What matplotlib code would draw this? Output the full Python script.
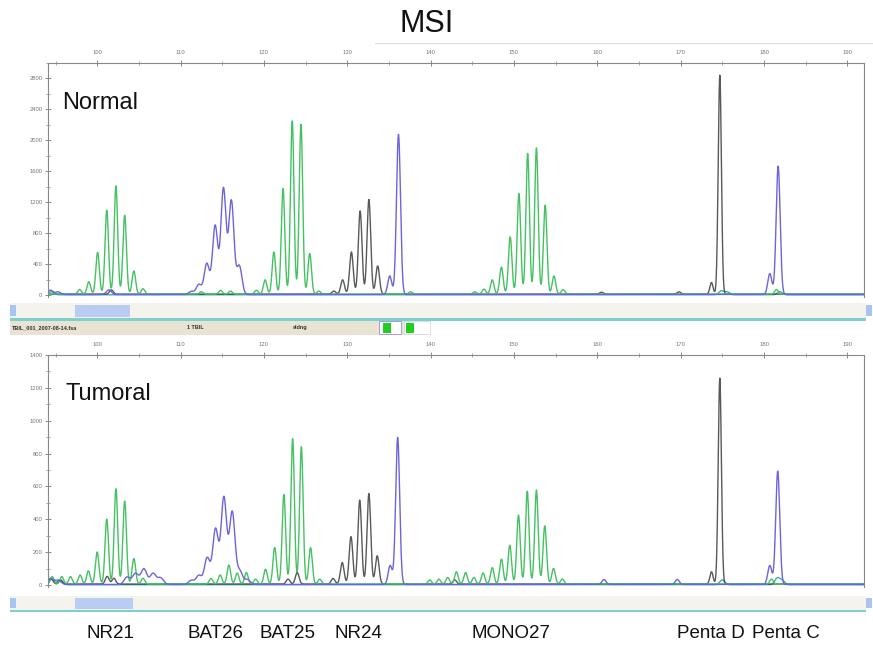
import numpy as np
import matplotlib
matplotlib.use("Agg")
import matplotlib.pyplot as plt
import matplotlib.transforms as mtransforms
from matplotlib.patches import Rectangle
from matplotlib.ticker import MultipleLocator

plt.rcParams['font.family'] = ['Liberation Sans', 'DejaVu Sans']

# ---------------- data: peaks (size in bp, height in RFU) ----------------
# Normal sample
normal_green_pos = [97.9, 99.0, 100.05, 101.15, 102.25, 103.3, 104.4, 105.5,
                    112.5, 114.8, 116.0,
                    119.1, 120.15, 121.2, 122.3, 123.4, 124.45, 125.5, 126.6,
                    137.6,
                    145.3, 146.4, 147.4, 148.5, 149.55, 150.6, 151.65, 152.7, 153.75, 154.8, 155.9,
                    181.5]
normal_green_h = [60, 160, 540, 1085, 1400, 1020, 300, 70,
                  30, 50, 40,
                  50, 185, 545, 1365, 2240, 2195, 525, 40,
                  30,
                  30, 65, 185, 350, 740, 1300, 1820, 1890, 1150, 235, 60,
                  60]
normal_blue_pos = [94.4, 95.3, 101.4,
                   111.3, 112.2, 113.15, 114.15, 115.15, 116.1, 117.05,
                   135.1, 136.15,
                   180.7, 181.7]
normal_blue_h = [55, 35, 60,
                 40, 130, 400, 890, 1370, 1210, 370,
                 240, 2070,
                 270, 1660]
normal_black_pos = [101.7, 128.4, 129.45, 130.5, 131.55, 132.6, 133.65,
                    160.5, 169.8, 173.7, 174.7]
normal_black_h = [55, 40, 185, 545, 1075, 1225, 365,
                  25, 30, 150, 2830]
normal_teal_pos = [94.5, 174.9, 175.6, 181.9]
normal_teal_h = [40, 50, 35, 40]

# Tumoral sample
tumor_green_pos = [94.6, 95.75, 96.8, 97.95, 98.95, 100.0, 101.15, 102.25, 103.3, 104.4, 105.5,
                   113.65, 114.75, 115.8, 116.8, 117.9, 119.0,
                   120.2, 121.3, 122.4, 123.45, 124.5, 125.6, 126.7,
                   139.9, 141.0, 142.05, 143.1, 144.2, 145.2, 146.3, 147.4, 148.5, 149.5,
                   150.55, 151.6, 152.7, 153.7, 154.75, 155.8,
                   180.9]
tumor_green_h = [45, 45, 45, 55, 80, 195, 395, 580, 505, 155, 35,
                 34, 55, 115, 67, 70, 30,
                 90, 222, 545, 885, 835, 222, 30,
                 25, 30, 40, 75, 70, 40, 67, 100, 152, 236,
                 420, 565, 572, 354, 95, 30,
                 30]
tumor_blue_pos = [94.4, 95.3, 103.6, 104.6, 105.6, 106.7, 107.6,
                  111.3, 112.2, 113.2, 114.2, 115.2, 116.2, 117.1, 118.0,
                  135.15, 136.05,
                  160.8, 169.6,
                  180.7, 181.65]
tumor_blue_h = [35, 25, 45, 67, 95, 67, 40,
                25, 55, 162, 337, 529, 440, 81, 30,
                115, 895,
                30, 30,
                115, 690]
tumor_black_pos = [94.5, 95.6, 101.2, 102.0, 122.9, 124.0,
                   128.3, 129.4, 130.45, 131.5, 132.6, 133.6,
                   142.9, 173.7, 174.7]
tumor_black_h = [30, 25, 47, 35, 30, 70,
                 34, 131, 289, 511, 551, 172,
                 25, 75, 1253]
tumor_teal_pos = [94.4, 95.5, 175.0, 181.6, 182.2]
tumor_teal_h = [40, 30, 30, 40, 25]

x_ticks_major = [100, 110, 120, 130, 140, 150, 160, 170, 180, 190]
marker_names = ["NR21", "BAT26", "BAT25", "NR24", "MONO27", "Penta D", "Penta C"]
marker_centers = [101.6, 114.2, 122.8, 131.3, 149.7, 173.6, 182.6]

# ---------------- helpers ----------------
xs = np.linspace(94.1, 192.0, 6000)


def trace(pos, h, sigma, base):
    y = np.full_like(xs, base, dtype=float)
    for p, a in zip(pos, h):
        y += a * np.exp(-0.5 * ((xs - p) / sigma) ** 2)
    return y


C_GREEN = '#44c262'
C_BLUE = '#6c64dc'
C_BLACK = '#3c3c3c'
C_TEAL = '#3aafb4'

W, H = 873, 648
fig = plt.figure(figsize=(W / 100, H / 100), dpi=100)
fig.patch.set_facecolor('white')

# decoration layer in pixel coordinates
deco = fig.add_axes([0, 0, 1, 1], zorder=0)
deco.set_xlim(0, W)
deco.set_ylim(H, 0)
deco.axis('off')


def rect(x0, y0, x1, y1, fc, ec='none', lw=0):
    deco.add_patch(Rectangle((x0, y0), x1 - x0, y1 - y0, facecolor=fc,
                             edgecolor=ec, linewidth=lw))


# title + line
deco.text(400, 24, "MSI", fontsize=22, ha='left', va='center', color='#111111')
deco.plot([375, 873], [43, 43], color='#dcdcdc', lw=0.8)

# middle strip
rect(10, 303, 866, 318, '#f5f3ee')
rect(75, 305, 130, 317, '#b9cdf3')
rect(10, 305, 16, 316, '#a9c4f0')
rect(866, 305, 872, 316, '#a9c4f0')
rect(10, 318, 866, 320.5, '#7fcfd0')
rect(10, 320.5, 430, 335, '#e8e3d3')
deco.text(12, 327.5, "TBIL_001_2007-08-14.fsa", fontsize=4, fontweight='bold',
          va='center', color='#333333')
deco.text(187, 327.5, "1 TBIL", fontsize=4, fontweight='bold', va='center', color='#333333')
deco.text(293, 327.5, "sldng", fontsize=4, fontweight='bold', va='center', color='#333333')
rect(379, 321, 401, 334, 'white', ec='#9a8fd0', lw=0.6)
rect(383, 322.5, 391, 332.5, '#22cc22')
rect(404, 321, 430, 334, 'white', ec='#d8d8d8', lw=0.6)
rect(406, 322.5, 414, 332.5, '#22cc22')

# bottom strip
rect(10, 596, 866, 610, '#f5f3ee')
rect(75, 598, 133, 609, '#b9cdf3')
rect(10, 598, 16, 608, '#a9c4f0')
rect(866, 598, 872, 608, '#a9c4f0')
rect(10, 610, 866, 612, '#7fcfd0')


def setup_axes(ax, ymax, ymajor, yminor, ymin):
    ax.set_xlim(94.1, 192.0)
    ax.set_ylim(ymin, ymax)
    ax.xaxis.tick_top()
    ax.set_xticks(x_ticks_major)
    ax.xaxis.set_minor_locator(MultipleLocator(5))
    ax.yaxis.set_major_locator(MultipleLocator(ymajor))
    ax.yaxis.set_minor_locator(MultipleLocator(yminor))
    ax.tick_params(axis='both', which='major', direction='inout', length=4,
                   width=0.6, color='#777777', labelsize=4.2, labelcolor='#777777', pad=2)
    ax.tick_params(axis='both', which='minor', direction='inout', length=3,
                   width=0.5, color='#888888')
    ax.tick_params(axis='x', which='major', pad=4)
    for s in ax.spines.values():
        s.set_color('#888888')
        s.set_linewidth(0.8)
    ax.spines['bottom'].set_visible(False)
    ax.set_facecolor('none')


def draw_panel(ax, green, blue_groups, black_groups, teal, base):
    ax.plot(xs, trace(teal[0], teal[1], 0.3, base * 0.3), color=C_TEAL, lw=1.0)
    yk = np.full_like(xs, base)
    for pos, h, sg in black_groups:
        yk += trace(pos, h, sg, 0)
    ax.plot(xs, yk, color=C_BLACK, lw=1.0, alpha=0.85)
    ax.plot(xs, trace(green[0], green[1], 0.21, base), color=C_GREEN, lw=1.0)
    yb = np.full_like(xs, base * 0.6)
    for pos, h, sg in blue_groups:
        yb += trace(pos, h, sg, 0)
    ax.plot(xs, yb, color=C_BLUE, lw=1.0)


def split(pos, h, lo, hi):
    p = [a for a in pos if lo <= a < hi]
    v = [b for a, b in zip(pos, h) if lo <= a < hi]
    return p, v


# ---------------- top panel (Normal) ----------------
ax1 = fig.add_axes([48 / W, 1 - 297 / H, (864 - 48) / W, (297 - 63) / H], zorder=2)
setup_axes(ax1, 3000, 400, 200, -25)
nb_a = split(normal_blue_pos, normal_blue_h, 110, 119)
nb_b = split(normal_blue_pos, normal_blue_h, 0, 110)
nb_c = split(normal_blue_pos, normal_blue_h, 119, 200)
nk_a = split(normal_black_pos, normal_black_h, 0, 170)
nk_b = split(normal_black_pos, normal_black_h, 170, 200)
draw_panel(ax1, (normal_green_pos, normal_green_h),
           [(nb_a[0], nb_a[1], 0.31), (nb_b[0], nb_b[1], 0.3), (nb_c[0], nb_c[1], 0.24)],
           [(nk_a[0], nk_a[1], 0.22), (nk_b[0], nk_b[1], 0.19)],
           (normal_teal_pos, normal_teal_h), 12)
ax1.text(95.8, 2477, "Normal", fontsize=17, ha='left', va='center', color='#111111')

# ---------------- bottom panel (Tumoral) ----------------
ax2 = fig.add_axes([48 / W, 1 - 587 / H, (864 - 48) / W, (587 - 355) / H], zorder=2)
setup_axes(ax2, 1400, 200, 100, -12)
tb_a = split(tumor_blue_pos, tumor_blue_h, 110, 119)
tb_b = split(tumor_blue_pos, tumor_blue_h, 0, 110)
tb_c = split(tumor_blue_pos, tumor_blue_h, 119, 200)
tk_a = split(tumor_black_pos, tumor_black_h, 0, 170)
tk_b = split(tumor_black_pos, tumor_black_h, 170, 200)
draw_panel(ax2, (tumor_green_pos, tumor_green_h),
           [(tb_a[0], tb_a[1], 0.33), (tb_b[0], tb_b[1], 0.35), (tb_c[0], tb_c[1], 0.24)],
           [(tk_a[0], tk_a[1], 0.22), (tk_b[0], tk_b[1], 0.19)],
           (tumor_teal_pos, tumor_teal_h), 6)
ax2.text(96.16, 1164, "Tumoral", fontsize=17, ha='left', va='center', color='#111111')

# marker names below bottom panel
label_tr = mtransforms.blended_transform_factory(ax2.transData, fig.transFigure)
for name, c in zip(marker_names, marker_centers):
    ax2.text(c, 1 - 633 / H, name, fontsize=13.5, ha='center', va='center',
             transform=label_tr, color='#111111', clip_on=False)

fig.savefig("out.png", dpi=100, facecolor='white')
